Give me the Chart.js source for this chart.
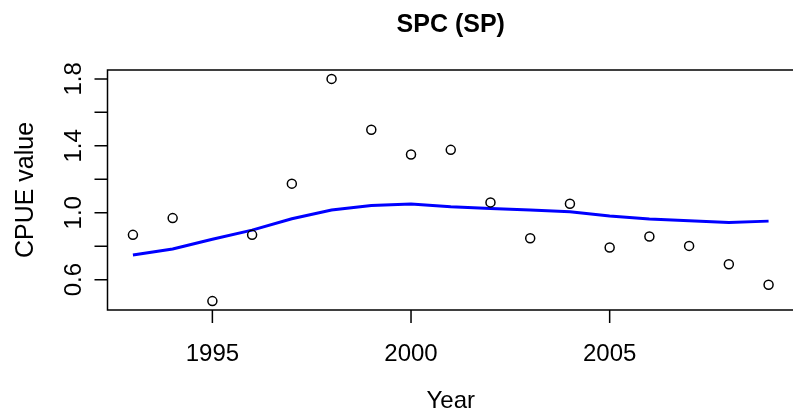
<!DOCTYPE html>
<html>
<head>
<meta charset="utf-8">
<script src="https://cdn.jsdelivr.net/npm/chart.js@4/dist/chart.umd.min.js"></script>
<style>
html,body{margin:0;padding:0;background:#fff;overflow:hidden;}
#wrap{width:800px;height:412px;}
</style>
</head>
<body>
<div id="wrap"><canvas id="c" width="800" height="412"></canvas></div>
<script>
// ---- data ----
const years = [1993,1994,1995,1996,1997,1998,1999,2000,2001,2002,2003,2004,2005,2006,2007,2008,2009];
const cpueObserved = [0.868,0.968,0.472,0.868,1.174,1.800,1.496,1.348,1.376,1.062,0.848,1.054,0.792,0.858,0.802,0.692,0.570];
const cpueFitted = [0.748,0.784,0.842,0.896,0.964,1.016,1.044,1.052,1.036,1.026,1.016,1.006,0.980,0.962,0.952,0.942,0.950];
const xTicks = [1995,2000,2005];
const xTickLabels = ["1995","2000","2005"];
const yTicks = [0.6,0.8,1.0,1.2,1.4,1.6,1.8];
const yTickLabels = ["0.6","","1.0","","1.4","","1.8"];
const chartTitle = "SPC (SP)";
const xTitle = "Year";
const yTitle = "CPUE value";

// R-style 4% axis extension
const xlo = Math.min(...years), xhi = Math.max(...years);
const ylo = Math.min(...cpueObserved, ...cpueFitted), yhi = Math.max(...cpueObserved, ...cpueFitted);
const xPad = (xhi - xlo) * 0.04, yPad = (yhi - ylo) * 0.04;

const FONT = '"Liberation Sans", Arial, Helvetica, sans-serif';

const rAxes = {
  id: 'rAxes',
  afterDraw(chart) {
    const ctx = chart.ctx, a = chart.chartArea;
    const xs = chart.scales.x, ys = chart.scales.y;
    ctx.save();
    ctx.strokeStyle = '#000';
    ctx.lineWidth = 1.5;
    // box
    ctx.strokeRect(a.left, a.top, a.right - a.left, a.bottom - a.top);
    // x ticks
    ctx.beginPath();
    xTicks.forEach(v => {
      const px = xs.getPixelForValue(v);
      ctx.moveTo(px, a.bottom); ctx.lineTo(px, a.bottom + 13);
    });
    // y ticks
    yTicks.forEach(v => {
      const py = ys.getPixelForValue(v);
      ctx.moveTo(a.left, py); ctx.lineTo(a.left - 13, py);
    });
    ctx.stroke();
    ctx.fillStyle = '#000';
    ctx.font = '24px ' + FONT;
    ctx.textAlign = 'center';
    ctx.textBaseline = 'alphabetic';
    xTicks.forEach((v, i) => {
      ctx.fillText(xTickLabels[i], xs.getPixelForValue(v), 361);
    });
    yTicks.forEach((v, i) => {
      if (!yTickLabels[i]) return;
      const py = ys.getPixelForValue(v);
      ctx.save();
      ctx.translate(81, py);
      ctx.rotate(-Math.PI/2);
      ctx.fillText(yTickLabels[i], 0, 0);
      ctx.restore();
    });
    // axis titles
    const cx = (a.left + a.right) / 2;
    ctx.fillText(xTitle, cx, 408);
    ctx.save();
    ctx.font = '25px ' + FONT;
    ctx.translate(33, (a.top + a.bottom) / 2);
    ctx.rotate(-Math.PI/2);
    ctx.fillText(yTitle, 0, 0);
    ctx.restore();
    // main title
    ctx.font = 'bold 25px ' + FONT;
    ctx.fillText(chartTitle, cx, 32);
    ctx.restore();
  }
};

new Chart(document.getElementById('c'), {
  type: 'scatter',
  data: {
    datasets: [
      {
        type: 'line',
        label: 'Fitted',
        data: years.map((y, i) => ({x: y, y: cpueFitted[i]})),
        borderColor: '#0000ff',
        borderWidth: 3,
        pointRadius: 0,
        tension: 0,
        fill: false,
        order: 2
      },
      {
        type: 'scatter',
        label: 'Observed',
        data: years.map((y, i) => ({x: y, y: cpueObserved[i]})),
        borderColor: '#000',
        backgroundColor: 'rgba(0,0,0,0)',
        borderWidth: 1.5,
        pointRadius: 4.5,
        pointStyle: 'circle',
        order: 1
      }
    ]
  },
  options: {
    responsive: false,
    animation: false,
    events: [],
    layout: { padding: { left: 107.5, top: 70, right: 5, bottom: 102 } },
    plugins: { legend: { display: false }, tooltip: { enabled: false }, title: { display: false } },
    scales: {
      x: { type: 'linear', min: xlo - xPad, max: xhi + xPad, display: false },
      y: { type: 'linear', min: ylo - yPad, max: yhi + yPad, display: false }
    }
  },
  plugins: [rAxes]
});
</script>
</body>
</html>
